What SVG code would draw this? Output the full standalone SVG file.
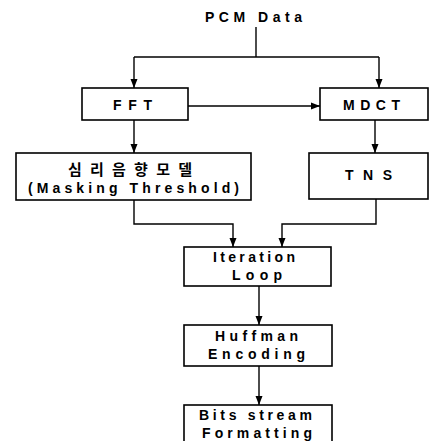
<svg xmlns="http://www.w3.org/2000/svg" width="434" height="441" viewBox="0 0 434 441">
<style>
  .box { fill: #ffffff; stroke: #000000; stroke-width: 1.6; }
  .t { font-family: "Liberation Sans", "Noto Sans CJK KR", sans-serif; font-weight: bold; font-size: 14px; fill: #000000; }
  .k { font-family: "Noto Sans CJK KR", "Liberation Sans", sans-serif; font-weight: bold; font-size: 15px; fill: #000000; }
  .c { fill: none; stroke: #000000; stroke-width: 1.4; }
</style>
<defs>
  <marker id="arr" markerUnits="userSpaceOnUse" markerWidth="9" markerHeight="9" viewBox="0 0 9 9" refX="9" refY="4.5" orient="auto">
    <path d="M0,1 L9,4.5 L0,8 Z" fill="#000000"/>
  </marker>
</defs>
<rect width="434" height="441" fill="#ffffff"/>

<g id="connectors">
  <path class="c" d="M256,27 V57"/>
  <path class="c" d="M134,57 H379"/>
  <path class="c" d="M134,57 V88" marker-end="url(#arr)"/>
  <path class="c" d="M379,57 V88" marker-end="url(#arr)"/>
  <path class="c" d="M188,106 H320" marker-end="url(#arr)"/>
  <path class="c" d="M134,120 V153" marker-end="url(#arr)"/>
  <path class="c" d="M375,120 V153" marker-end="url(#arr)"/>
  <path class="c" d="M134,200 V224 H233 V247" marker-end="url(#arr)"/>
  <path class="c" d="M376,199 V224 H282 V247" marker-end="url(#arr)"/>
  <path class="c" d="M259,286 V325" marker-end="url(#arr)"/>
  <path class="c" d="M259,366 V405" marker-end="url(#arr)"/>
</g>

<g id="pcm">
  <text class="t" x="205" y="22" textLength="97" lengthAdjust="spacing">PCM Data</text>
</g>

<g id="fft">
  <rect class="box" x="82" y="88" width="106" height="32"/>
  <text class="t" x="113" y="110" textLength="39" lengthAdjust="spacing">FFT</text>
</g>

<g id="mdct">
  <rect class="box" x="320" y="88" width="108" height="32"/>
  <text class="t" x="343" y="110" textLength="57" lengthAdjust="spacing">MDCT</text>
</g>

<g id="psycho">
  <rect class="box" x="16" y="153" width="235" height="47"/>
  <text class="k" x="68" y="175" textLength="124" lengthAdjust="spacing">심리음향모델</text>
  <text class="t" x="28" y="193" textLength="211" lengthAdjust="spacing">(Masking Threshold)</text>
</g>

<g id="tns">
  <rect class="box" x="309" y="153" width="119" height="46"/>
  <text class="t" x="345" y="180" textLength="47" lengthAdjust="spacing">TNS</text>
</g>

<g id="iteration">
  <rect class="box" x="184" y="247" width="147" height="39"/>
  <text class="t" x="213" y="262" textLength="82" lengthAdjust="spacing">Iteration</text>
  <text class="t" x="232" y="280" textLength="50" lengthAdjust="spacing">Loop</text>
</g>

<g id="huffman">
  <rect class="box" x="184" y="325" width="148" height="41"/>
  <text class="t" x="215" y="341" textLength="83" lengthAdjust="spacing">Huffman</text>
  <text class="t" x="208" y="359" textLength="97" lengthAdjust="spacing">Encoding</text>
</g>

<g id="bits">
  <rect class="box" x="184" y="405" width="148" height="45"/>
  <text class="t" x="199" y="420" textLength="113" lengthAdjust="spacing">Bits stream</text>
  <text class="t" x="202" y="438" textLength="110" lengthAdjust="spacing">Formatting</text>
</g>
</svg>
